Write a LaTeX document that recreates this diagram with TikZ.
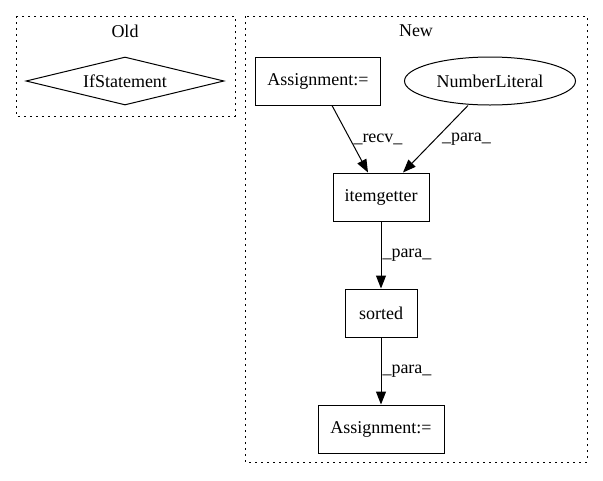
\documentclass[tikz,border=0pt]{standalone}
\usepackage{fontspec}
\setmainfont{Liberation Serif}
\usetikzlibrary{shapes, arrows.meta, positioning, calc}
\tikzset{
    box/.style={
        rectangle,
        draw=black,
        line width=1pt,
        minimum width=#1,
        minimum height=48pt,
    },
    oval/.style={
        ellipse,
        draw=black,
        line width=1pt,
        minimum width=171pt,
        minimum height=48pt,
    },
    decision/.style={
        diamond,
        draw=black,
        line width=1pt,
        aspect=4.1,
        minimum width=198pt,
        minimum height=48pt,
        inner sep=0pt,
    },
    cluster/.style={
        draw=black,
        line width=1pt,
        dash pattern=on 1.6pt off 4.4pt,
    },
    edgelabel/.style={
        inner sep=2pt,
        font=\fontsize{18}{20}\selectfont,
    },
}

\begin{document}
\begin{tikzpicture}[x=1pt, y=-1pt, >={Triangle[length=13pt,width=10pt]},
    every node/.style={font=\fontsize{18}{20}\selectfont}]
    \useasboundingbox (0,0) rectangle (603,480);

    % clusters
    \draw[cluster] (16,16) rectangle (235,116);
    \node (OldTitle) at (125,31) {Old};
    \draw[cluster] (245,16) rectangle (587,462);
    \node (NewTitle) at (416,31) {New};

    % old
    \node [decision] (IfStmt) at (125,81) {IfStatement};

    % new
    \node [box=125pt] (AssignA) at (318,81) {Assignment:=};
    \node [oval] (NumLit) at (490,81) {NumberLiteral};
    \node [box=96pt] (ItemGet) at (381,197) {itemgetter};
    \node [box=72pt] (Sorted) at (381,313) {sorted};
    \node [box=126pt] (AssignB) at (381,429) {Assignment:=};

    \draw[->, line width=1pt] ([xshift=14pt]AssignA.south) -- node[edgelabel, right, xshift=1pt] {\_recv\_} ([xshift=-13pt]ItemGet.north);
    \draw[->, line width=1pt] ([xshift=-22pt]NumLit.south) -- node[edgelabel, right, xshift=4pt] {\_para\_} ([xshift=22pt]ItemGet.north);
    \draw[->, line width=1pt] (ItemGet) -- node[edgelabel, right, inner sep=1pt] {\_para\_} (Sorted);
    \draw[->, line width=1pt] (Sorted) -- node[edgelabel, right, inner sep=1pt] {\_para\_} (AssignB);
\end{tikzpicture}
\end{document}
